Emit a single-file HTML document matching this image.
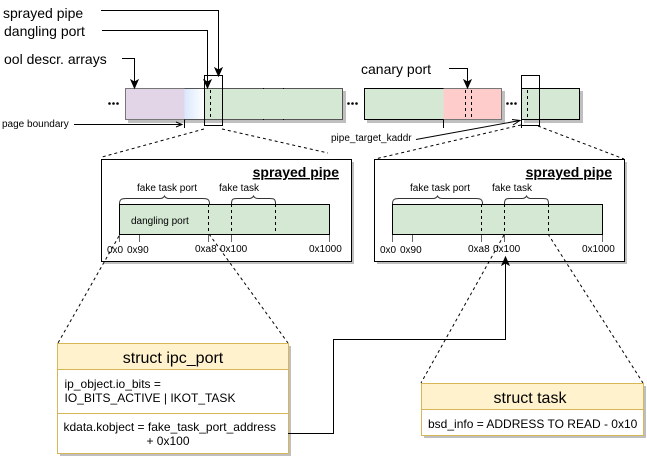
<!DOCTYPE html>
<html><head><meta charset="utf-8"><style>
html,body{margin:0;padding:0;background:#fff}
svg{display:block}
text{font-family:"Liberation Sans",sans-serif;fill:#000}
.s14{font-size:14px}.s10{font-size:10px}.s12{font-size:12px}.s16{font-size:16px}
.b{font-weight:bold;font-size:14px;text-decoration:underline}
.d{stroke-dasharray:3 3;fill:none;stroke:#000}
.l{fill:none;stroke:#000}
.g{fill:#d5e8d4}
.sh{fill:#000;opacity:.25}
.y{fill:#fff2cc;stroke:#d6b656}
.w{fill:#fff;stroke:#d6b656}
.br{fill:none;stroke:#333}
.t{stroke:#666;fill:none}
</style></head><body>
<svg width="647" height="458" viewBox="0 0 647 458" xmlns="http://www.w3.org/2000/svg">
<defs><linearGradient id="gr" x1="0" x2="1" y1="0" y2="0"><stop offset="0" stop-color="#dae8fc"/><stop offset="1" stop-color="#fff"/></linearGradient></defs>

<!-- top labels -->
<text class="s14" x="3" y="18">sprayed pipe</text>
<text class="s14" x="4" y="36">dangling port</text>
<text class="s14" x="4" y="64">ool descr. arrays</text>
<text class="s14" x="361" y="74">canary port</text>
<text class="s10" x="2" y="127">page boundary</text>
<text class="s10" x="331" y="141">pipe_target_kaddr</text>

<!-- bars shadow -->
<rect class="sh" x="128" y="91" width="218" height="32"/>
<rect class="sh" x="367" y="91" width="138" height="32"/>
<rect class="sh" x="524" y="91" width="59" height="32"/>

<!-- bar 1 -->
<rect x="125.500" y="88.500" width="59" height="31" fill="#e1d5e7"/>
<rect x="184.500" y="88.500" width="20" height="31" fill="url(#gr)"/>
<rect x="204.500" y="88.500" width="138" height="31" class="g"/>
<path d="M184.500 88.500H125.500V119.500H184.500" fill="none" stroke="#777"/>
<path d="M184.500 88.500H342.500V119.500H184.500" fill="none" stroke="#555"/>
<path class="l" d="M263.500 88v1M263.500 119v1M283.500 88v1M283.500 119v1"/>
<rect x="204.500" y="75.500" width="18" height="50" class="l"/>
<path class="d" d="M210.500 90V119"/>
<circle cx="109.500" cy="103.500" r="1.300"/><circle cx="113.500" cy="103.500" r="1.300"/><circle cx="117.500" cy="103.500" r="1.300"/>
<circle cx="348.500" cy="103.500" r="1.300"/><circle cx="352.500" cy="103.500" r="1.300"/><circle cx="356.500" cy="103.500" r="1.300"/>

<!-- bar 2 -->
<rect x="364.500" y="88.500" width="79" height="31" class="g"/>
<rect x="443.500" y="88.500" width="58" height="31" fill="#ffcccc"/>
<path d="M443.500 88.500H364.500V119.500H443.500" fill="none" stroke="#000"/>
<path d="M443.500 88.500H501.500V119.500H443.500" fill="none" stroke="#777"/>
<path class="l" d="M443.500 119.500V128"/>
<path class="d" d="M465.500 90V119M471.500 90V119"/>
<circle cx="507.500" cy="103.500" r="1.300"/><circle cx="511.500" cy="103.500" r="1.300"/><circle cx="515.500" cy="103.500" r="1.300"/>

<!-- bar 3 -->
<rect x="521.500" y="88.500" width="58" height="31" class="g" stroke="#000"/>
<rect x="521.500" y="75.500" width="18" height="50" class="l"/>
<path class="d" d="M527.500 90V119"/>

<!-- top arrows -->
<path class="l" d="M101 10.500H218.500V70"/><path d="M218.500 76l-3.500-8 3.500 2 3.500-2z" stroke="#000"/>
<path class="l" d="M102 30.500H207.500V82"/><path d="M207.500 88l-3.500-8 3.500 2 3.500-2z" stroke="#000"/>
<path class="l" d="M122 58.500H134.500V82"/><path d="M134.500 88l-3.500-8 3.500 2 3.500-2z" stroke="#000"/>
<path class="l" d="M449 68.500H467.500V82"/><path d="M467.500 88l-3.500-8 3.500 2 3.500-2z" stroke="#000"/>

<!-- page boundary -->
<path class="l" d="M74 124.500H182"/><path class="l" d="M176 122l6 2.500-6 2.500"/>
<path class="l" d="M184.500 119.500V128"/>

<!-- pipe target -->
<path class="l" d="M416 139.500L520 120.500"/><path class="l" d="M512 119.500l8 1-7 4.500"/>

<!-- dashed zoom lines -->
<path class="d" d="M204 129L102 157M222 129L328 153"/>
<path class="d" d="M521 125L375 159M538 126L624 159"/>
<path class="l" d="M521.500 119v9"/>

<!-- panel 1 -->
<rect class="sh" x="104" y="162" width="250" height="102"/>
<rect x="101.500" y="159.500" width="250" height="102" fill="#fff" stroke="#000"/>
<text class="b" x="339" y="177" text-anchor="end">sprayed pipe</text>
<text class="s10" x="137" y="191">fake task port</text>
<text class="s10" x="219" y="191">fake task</text>
<path class="br" d="M119.500 204C119.500 199 122 198.500 126 198.500H160C163 198.500 164 197 164.500 196C165 197 166 198.500 169 198.500H203C207 198.500 209.500 199 209.500 204"/>
<path class="br" d="M231.500 204C231.500 199 233 198.500 237 198.500H249C252 198.500 253 197 253.500 196C254 197 255 198.500 258 198.500H270C274 198.500 275.500 199 275.500 204"/>
<rect x="119.500" y="204.500" width="210" height="30" class="g" stroke="#000"/>
<text class="s10" x="131" y="224">dangling port</text>
<path class="d" d="M208.500 204V234M231.500 204V234M275.500 204V234"/>
<path class="t" d="M119.500 235V242M139.500 235V242M208.500 235V242M231.500 235V242M329.500 235V242"/>
<text class="s10" x="107" y="253">0x0</text>
<text class="s10" x="127" y="253">0x90</text>
<text class="s10" x="195" y="252">0xa8</text>
<text class="s10" x="220" y="252">0x100</text>
<text class="s10" x="309" y="252">0x1000</text>

<!-- panel 2 -->
<rect class="sh" x="377" y="162" width="250" height="102"/>
<rect x="374.500" y="159.500" width="250" height="102" fill="#fff" stroke="#000"/>
<text class="b" x="612" y="177" text-anchor="end">sprayed pipe</text>
<text class="s10" x="410" y="191">fake task port</text>
<text class="s10" x="492" y="191">fake task</text>
<path class="br" d="M392.500 204C392.500 199 395 198.500 399 198.500H433C436 198.500 437 197 437.500 196C438 197 439 198.500 442 198.500H476C480 198.500 482.500 199 482.500 204"/>
<path class="br" d="M504.500 204C504.500 199 506 198.500 510 198.500H522C525 198.500 526 197 526.500 196C527 197 528 198.500 531 198.500H543C547 198.500 548.500 199 548.500 204"/>
<rect x="392.500" y="204.500" width="210" height="30" class="g" stroke="#000"/>
<path class="d" d="M481.500 204V234M504.500 204V234M548.500 204V234"/>
<path class="t" d="M392.500 235V242M412.500 235V242M481.500 235V242M504.500 235V242M602.500 235V242"/>
<text class="s10" x="380" y="253">0x0</text>
<text class="s10" x="400" y="253">0x90</text>
<text class="s10" x="468" y="252">0xa8</text>
<text class="s10" x="493" y="252">0x100</text>
<text class="s10" x="582" y="252">0x1000</text>

<!-- dashed to structs -->
<path class="d" d="M119 236L58 343M209 234L288 343"/>
<path class="d" d="M504 235L421 383M548 234L643 383"/>

<!-- struct ipc_port -->
<rect class="sh" x="60" y="346" width="231" height="110"/>
<rect x="57.500" y="343.500" width="231" height="26" class="y"/>
<rect x="57.500" y="369.500" width="231" height="44" class="w"/>
<rect x="57.500" y="413.500" width="231" height="40" class="w"/>
<text x="173" y="363" text-anchor="middle" class="s16">struct ipc_port</text>
<text class="s12" x="64.500" y="388">ip_object.io_bits =</text>
<text class="s12" x="64.500" y="402">IO_BITS_ACTIVE | IKOT_TASK</text>
<text class="s12" x="63.500" y="431">kdata.kobject = fake_task_port_address</text>
<text class="s12" x="168" y="445" text-anchor="middle">+ 0x100</text>

<!-- connector -->
<path class="l" d="M288 433.500H333.500V339.500H505.500V263"/><path d="M505.500 257l-3.500 8 3.500-2 3.500 2z" stroke="#000"/>

<!-- struct task -->
<rect class="sh" x="424" y="386" width="222" height="52"/>
<rect x="421.500" y="383.500" width="222" height="26" class="y"/>
<rect x="421.500" y="409.500" width="222" height="26" class="w"/>
<text x="530" y="403" text-anchor="middle" class="s16">struct task</text>
<text class="s12" x="428" y="428">bsd_info = ADDRESS TO READ - 0x10</text>
</svg>
</body></html>
